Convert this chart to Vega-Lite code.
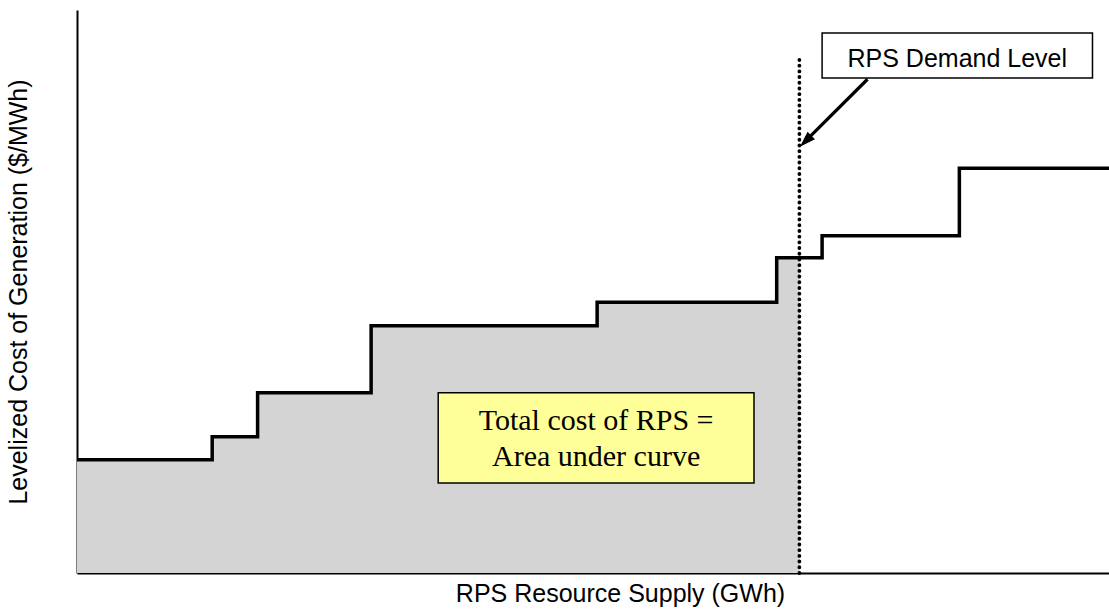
{
  "$schema": "https://vega.github.io/schema/vega-lite/v6.json",
  "autosize": "none",
  "width": 1032,
  "height": 563,
  "padding": {"left": 77, "top": 10, "right": 0, "bottom": 37},
  "background": "white",
  "config": {"view": {"stroke": null}, "font": "Liberation Sans"},
  "layer": [
    {
      "data": {"values": [
        {"supply": 0, "cost": 20.1},
        {"supply": 13.1, "cost": 24.2},
        {"supply": 17.5, "cost": 32.0},
        {"supply": 28.5, "cost": 43.9},
        {"supply": 50.4, "cost": 48.1},
        {"supply": 67.8, "cost": 56.0},
        {"supply": 70.0, "cost": 56.0}
      ]},
      "mark": {"type": "area", "interpolate": "step-after", "color": "#d4d4d4", "opacity": 1},
      "encoding": {
        "x": {"field": "supply", "type": "quantitative", "scale": {"domain": [0, 100], "nice": false, "zero": false},
          "axis": {"title": "RPS Resource Supply (GWh)", "labels": false, "ticks": false, "grid": false, "domainColor": "black", "domainWidth": 2,
            "titleFont": "Liberation Sans", "titleFontSize": 25, "titleFontWeight": "normal", "titleColor": "black", "titlePadding": 8, "titleX": 543}},
        "y": {"field": "cost", "type": "quantitative", "scale": {"domain": [0, 100], "nice": false, "zero": false},
          "axis": {"title": "Levelized Cost of Generation ($/MWh)", "labels": false, "ticks": false, "grid": false, "domainColor": "black", "domainWidth": 2,
            "titleFont": "Liberation Sans", "titleFontSize": 25, "titleFontWeight": "normal", "titleColor": "black", "titlePadding": 46}}
      }
    },
    {
      "data": {"values": [
        {"supply": 0, "cost": 20.1},
        {"supply": 13.1, "cost": 24.2},
        {"supply": 17.5, "cost": 32.0},
        {"supply": 28.5, "cost": 43.9},
        {"supply": 50.4, "cost": 48.1},
        {"supply": 67.8, "cost": 56.0},
        {"supply": 72.2, "cost": 59.9},
        {"supply": 85.5, "cost": 71.9},
        {"supply": 100, "cost": 71.9}
      ]},
      "mark": {"type": "line", "interpolate": "step-after", "color": "black", "strokeWidth": 3.5},
      "encoding": {
        "x": {"field": "supply", "type": "quantitative"},
        "y": {"field": "cost", "type": "quantitative"}
      }
    },
    {
      "data": {"values": [{"demand": 70.0, "low": 0, "high": 92.0}]},
      "mark": {"type": "rule", "color": "black", "strokeWidth": 3.8, "strokeDash": [0.1, 5.6], "strokeCap": "round"},
      "encoding": {
        "x": {"field": "demand", "type": "quantitative"},
        "y": {"field": "low", "type": "quantitative"},
        "y2": {"field": "high"}
      }
    },
    {
      "data": {"values": [{"xa": 76.6, "ya": 87.7, "xb": 70.9, "yb": 77.3}]},
      "mark": {"type": "rule", "color": "black", "strokeWidth": 3.2},
      "encoding": {
        "x": {"field": "xa", "type": "quantitative"},
        "y": {"field": "ya", "type": "quantitative"},
        "x2": {"field": "xb"},
        "y2": {"field": "yb"}
      }
    },
    {
      "data": {"values": [{"xh": 70.6, "yh": 76.7}]},
      "mark": {"type": "point", "shape": "M0,-1L0.65,1L-0.65,1Z", "filled": true, "color": "black", "opacity": 1, "size": 256, "angle": 225},
      "encoding": {
        "x": {"field": "xh", "type": "quantitative"},
        "y": {"field": "yh", "type": "quantitative"}
      }
    },
    {
      "data": {"values": [{"x1": 72.2, "x2": 98.4, "y1": 95.9, "y2": 87.9}]},
      "mark": {"type": "rect", "fill": "white", "stroke": "black", "strokeWidth": 1.5},
      "encoding": {
        "x": {"field": "x1", "type": "quantitative"},
        "x2": {"field": "x2"},
        "y": {"field": "y1", "type": "quantitative"},
        "y2": {"field": "y2"}
      }
    },
    {
      "data": {"values": [{"xt": 85.3, "yt": 89.9, "label": "RPS Demand Level"}]},
      "mark": {"type": "text", "font": "Liberation Sans", "fontSize": 25, "color": "black", "align": "center", "baseline": "alphabetic"},
      "encoding": {
        "x": {"field": "xt", "type": "quantitative"},
        "y": {"field": "yt", "type": "quantitative"},
        "text": {"field": "label"}
      }
    },
    {
      "data": {"values": [{"x1": 35.0, "x2": 65.6, "y1": 32.0, "y2": 16.0}]},
      "mark": {"type": "rect", "fill": "#ffff99", "stroke": "black", "strokeWidth": 1.5},
      "encoding": {
        "x": {"field": "x1", "type": "quantitative"},
        "x2": {"field": "x2"},
        "y": {"field": "y1", "type": "quantitative"},
        "y2": {"field": "y2"}
      }
    },
    {
      "data": {"values": [
        {"xt": 50.3, "yt": 25.4, "label": "Total cost of RPS ="},
        {"xt": 50.3, "yt": 19.0, "label": "Area under curve"}
      ]},
      "mark": {"type": "text", "font": "Liberation Serif", "fontSize": 30, "color": "black", "align": "center", "baseline": "alphabetic"},
      "encoding": {
        "x": {"field": "xt", "type": "quantitative"},
        "y": {"field": "yt", "type": "quantitative"},
        "text": {"field": "label"}
      }
    }
  ]
}
